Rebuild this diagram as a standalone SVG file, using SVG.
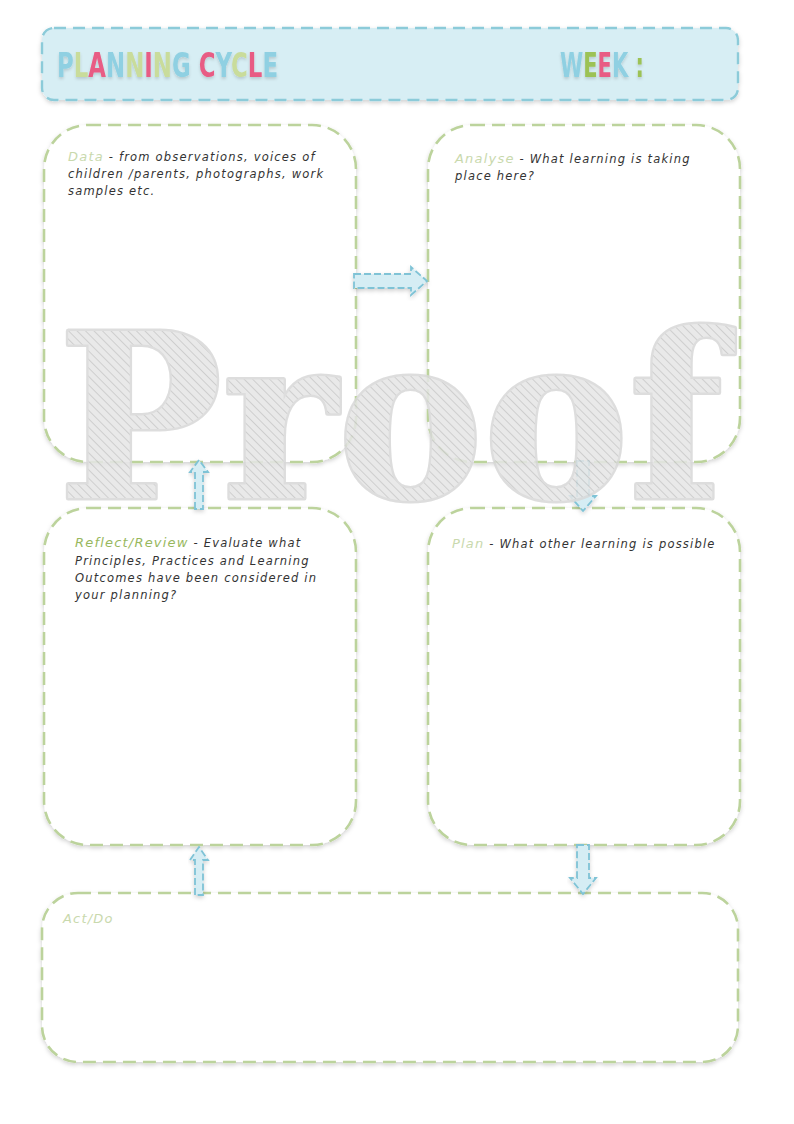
<svg xmlns="http://www.w3.org/2000/svg" width="794" height="1124" viewBox="0 0 794 1124">
<defs>
<style>
.box{fill:#ffffff;stroke:#bcd39c;stroke-width:2.6;stroke-dasharray:13 7;filter:url(#sh)}
.arrow{fill:#d5edf4;stroke:#7fc3d6;stroke-width:1.8;stroke-dasharray:7 3;filter:url(#sh)}
.t{font-family:"DejaVu Sans","Liberation Sans",sans-serif;font-style:italic;font-size:11.5px;fill:#333333;letter-spacing:1.2px}
.lab{fill:#c9d9ad}
.lab2{fill:#98b85e}
.title{font-family:"DejaVu Sans Condensed","DejaVu Sans","Liberation Sans",sans-serif;font-weight:bold;font-size:34px}
.b{fill:#8fd0e2}.g{fill:#c9dc9b}.p{fill:#e85c84}.gg{fill:#9cc255}
</style>
<filter id="sh" x="-10%" y="-10%" width="120%" height="130%">
<feDropShadow dx="0" dy="2" stdDeviation="2" flood-color="#000" flood-opacity="0.18"/>
</filter>
<filter id="tsh" x="-10%" y="-20%" width="120%" height="150%">
<feDropShadow dx="0" dy="2" stdDeviation="1.5" flood-color="#000" flood-opacity="0.15"/>
</filter>
<pattern id="hatch" width="6" height="6" patternUnits="userSpaceOnUse" patternTransform="rotate(-45)">
<rect width="6" height="6" fill="#e6e6e6"/>
<line x1="0" y1="0" x2="0" y2="6" stroke="#c6c6c6" stroke-width="2"/>
</pattern>
</defs>
<rect width="794" height="1124" fill="#ffffff"/>

<g id="header">
<rect x="42" y="28" width="696" height="72" rx="12" fill="#d7eef4" stroke="#8ccbd9" stroke-width="2.4" stroke-dasharray="12 7" filter="url(#sh)"/>
<text class="title" x="57" y="77" textLength="221" lengthAdjust="spacingAndGlyphs" filter="url(#tsh)"><tspan class="b">P</tspan><tspan class="g">L</tspan><tspan class="p">A</tspan><tspan class="b">N</tspan><tspan class="g">N</tspan><tspan class="p">I</tspan><tspan class="g">N</tspan><tspan class="b">G</tspan> <tspan class="p">C</tspan><tspan class="b">Y</tspan><tspan class="g">C</tspan><tspan class="p">L</tspan><tspan class="b">E</tspan></text>
<text class="title" x="560" y="77" textLength="84" lengthAdjust="spacingAndGlyphs" filter="url(#tsh)"><tspan class="b">W</tspan><tspan class="gg">E</tspan><tspan class="p">E</tspan><tspan class="b">K</tspan> <tspan class="gg">:</tspan></text>
</g>

<g id="data">
<rect class="box" x="44" y="125" width="312" height="337" rx="44"/>
<text class="t" x="68" y="161"><tspan class="lab" font-size="13">Data</tspan> - from observations, voices of</text>
<text class="t" x="68" y="178">children /parents, photographs, work</text>
<text class="t" x="68" y="195">samples etc.</text>
</g>

<g id="analyse">
<rect class="box" x="428" y="125" width="312" height="337" rx="44"/>
<text class="t" x="455" y="163"><tspan class="lab" font-size="13">Analyse</tspan> - What learning is taking</text>
<text class="t" x="455" y="180">place here?</text>
</g>

<g id="reflect">
<rect class="box" x="44" y="508" width="312" height="337" rx="44"/>
<text class="t" x="75" y="547"><tspan class="lab2" font-size="13">Reflect/Review</tspan> - Evaluate what</text>
<text class="t" x="75" y="565">Principles, Practices and Learning</text>
<text class="t" x="75" y="582">Outcomes have been considered in</text>
<text class="t" x="75" y="599">your planning?</text>
</g>

<g id="plan">
<rect class="box" x="428" y="508" width="312" height="337" rx="44"/>
<text class="t" x="452" y="548"><tspan class="lab" font-size="13">Plan</tspan> - What other learning is possible</text>
</g>

<g id="act">
<rect class="box" x="42" y="893" width="696" height="169" rx="36"/>
<text class="t" x="63" y="923"><tspan class="lab" font-size="13">Act/Do</tspan></text>
</g>

<g id="connectors">
<path class="arrow" d="M354,274 H411 V267 L427,281 L411,295 V288 H354 Z"/>
<path class="arrow" d="M577,461 H589 V496 H596 L583,511 L570,496 H577 Z"/>
<path class="arrow" d="M195,509 V472 H190 L199,460 L208,472 H203 V509 Z"/>
<path class="arrow" d="M195,895 V860 H190 L199,847 L208,860 H203 V895 Z"/>
<path class="arrow" d="M577,845 H589 V878 H596 L583,894 L570,878 H577 Z"/>
</g>

<g id="watermark" opacity="0.85">
<text x="58" y="498" textLength="665" lengthAdjust="spacingAndGlyphs" font-family="DejaVu Serif" font-weight="bold" font-size="228" fill="url(#hatch)" stroke="#d8d8d8" stroke-width="5" stroke-linejoin="round" paint-order="stroke">Proof</text>
</g>
</svg>
